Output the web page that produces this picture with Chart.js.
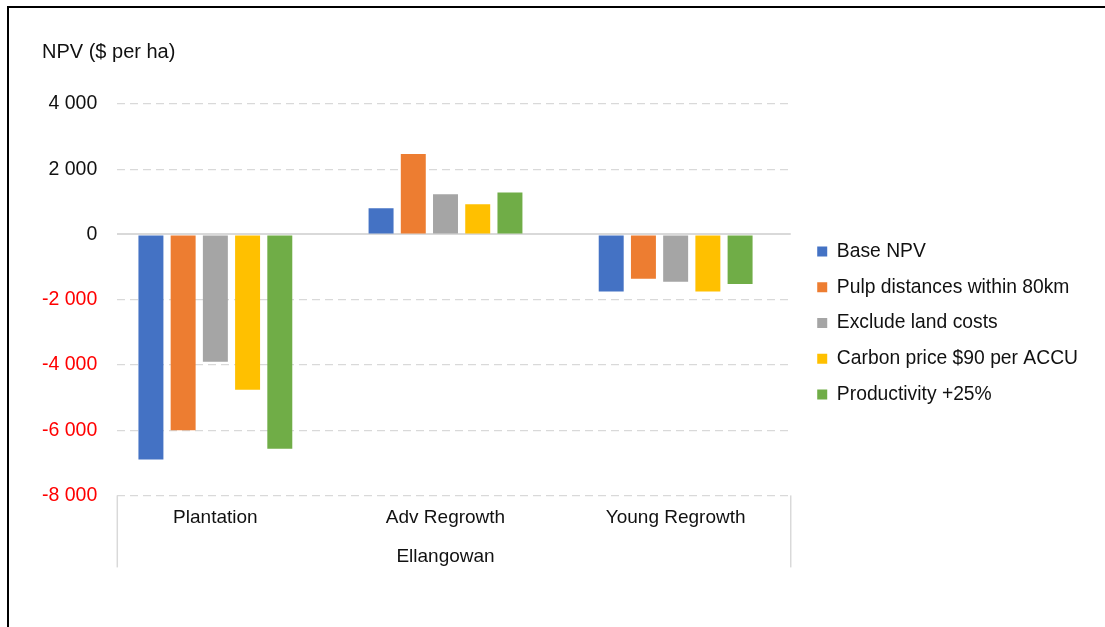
<!DOCTYPE html>
<html>
<head>
<meta charset="utf-8">
<script src="https://cdn.jsdelivr.net/npm/chart.js@4"></script>
<style>
  body { margin: 0; background: #fff; }
  #wrap { position: relative; width: 1105px; height: 627px; }
  #frame { position: absolute; left: 7px; top: 6px; right: 0; bottom: 0; border-top: 2px solid #000; border-left: 2px solid #000; pointer-events: none; }
  canvas { position: absolute; left: 0; top: 0; }
</style>
</head>
<body>
<div id="wrap">
  <canvas id="npvChart" width="1105" height="627"></canvas>
  <div id="frame"></div>
</div>
<script>
const sites = ["Plantation", "Adv Regrowth", "Young Regrowth"];
const groupLabel = "Ellangowan";
const axisTitle = "NPV ($ per ha)";

const scenarioNames = [
    "Base NPV",
    "Pulp distances within 80km",
    "Exclude land costs",
    "Carbon price $90 per ACCU",
    "Productivity +25%"
];
const scenarioColors = ["#4472C4", "#ED7D31", "#A5A5A5", "#FFC000", "#70AD47"];

const baseNpv = [-6900, 800, -1750];
const pulpWithin80 = [-6000, 2470, -1360];
const excludeLand = [-3900, 1230, -1450];
const carbon90 = [-4760, 930, -1750];
const productivity25 = [-6570, 1290, -1520];

const yMin = -8000;
const yMax = 4000;
const yStep = 2000;

const seriesValues = [baseNpv, pulpWithin80, excludeLand, carbon90, productivity25];

// Excel group spacing is a bit off-centre, so widen the category range to the left
const xScaleShift = 17;
const legendShiftX = 10;
const legendShiftY = 39;
const titleShiftX = 20;

function formatThousands(v) {
    const s = Math.abs(v).toString().replace(/\B(?=(\d{3})+(?!\d))/g, " ");
    return (v < 0 ? "-" : "") + s;
}

const excelLook = {
    id: "excelLook",
    afterLayout(chart) {
        const x = chart.scales.x;
        x.left = chart.chartArea.left - xScaleShift;
        x.configure();
        const lg = chart.legend;
        lg.left += legendShiftX; lg.right += legendShiftX;
        lg.top += legendShiftY; lg.bottom += legendShiftY;
        const tb = chart.titleBlock;
        tb.left += titleShiftX; tb.right += titleShiftX;
    },
    afterDraw(chart) {
        // category group dividers below the plot
        const { ctx, chartArea } = chart;
        ctx.save();
        ctx.strokeStyle = "#d9d9d9";
        ctx.lineWidth = 1.5;
        [chartArea.left, chartArea.right].forEach(px => {
            ctx.beginPath();
            ctx.moveTo(px, chartArea.bottom);
            ctx.lineTo(px, chartArea.bottom + 72);
            ctx.stroke();
        });
        ctx.restore();
    }
};

const ctx = document.getElementById("npvChart").getContext("2d");

new Chart(ctx, {
    type: "bar",
    data: {
        labels: sites,
        datasets: scenarioNames.map((name, i) => ({
            label: name,
            data: seriesValues[i],
            backgroundColor: scenarioColors[i],
            borderWidth: 0,
            categoryPercentage: 0.70,
            barPercentage: 0.775
        }))
    },
    options: {
        responsive: false,
        animation: false,
        layout: { padding: { left: 22, top: 0, right: 27, bottom: 59 } },
        font: { family: "'Liberation Sans', Arial, sans-serif", size: 19 },
        plugins: {
            title: {
                display: true,
                text: axisTitle,
                align: "start",
                color: "#111",
                font: { size: 20, weight: "normal" },
                padding: { top: 40, bottom: 40 }
            },
            legend: {
                position: "right",
                maxWidth: 320,
                labels: {
                    boxWidth: 10,
                    boxHeight: 10,
                    padding: 16.5,
                    color: "#111",
                    font: { size: 19.3 }
                }
            },
            tooltip: { enabled: false }
        },
        scales: {
            x: {
                grid: { display: false, drawTicks: false },
                border: { display: false },
                ticks: { color: "#111", padding: 11, font: { size: 19 } },
                title: {
                    display: true,
                    text: groupLabel,
                    color: "#111",
                    font: { size: 19 },
                    padding: { top: 5, bottom: 0 }
                }
            },
            y: {
                min: yMin,
                max: yMax,
                grid: {
                    drawTicks: false,
                    color: "#d9d9d9",
                    lineWidth: c => (c.tick && c.tick.value === 0 ? 2 : 1.3)
                },
                border: {
                    display: false,
                    dash: c => (c.tick && c.tick.value === 0 ? [] : [8, 5])
                },
                ticks: {
                    stepSize: yStep,
                    padding: 20,
                    font: { size: 19.5 },
                    color: c => (c.tick.value < 0 ? "#ff0000" : "#111"),
                    callback: v => formatThousands(v)
                }
            }
        }
    },
    plugins: [excelLook]
});
</script>
</body>
</html>
